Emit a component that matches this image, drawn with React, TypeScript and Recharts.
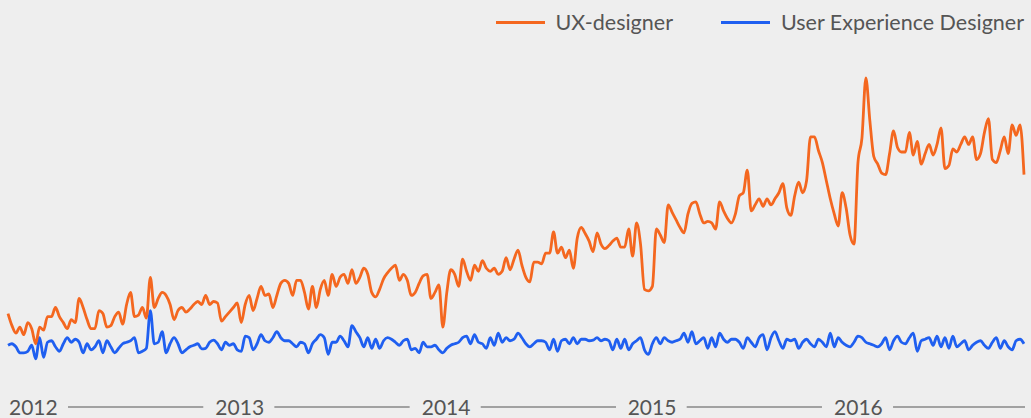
import { LineChart, Line, XAxis, YAxis } from "recharts";

// weekly interest, Jan 2012 .. Dec 2016
const ux2012 = [22, 18, 15.5, 17.5, 15, 19, 17, 12, 17.5, 16.5, 21, 21, 24, 21, 19, 17, 20, 19, 27, 24, 20, 17, 17, 23, 22, 17.5, 18, 21, 22.5, 18.5, 25, 29, 21, 21.5, 24, 20.5, 34, 24, 27, 29, 28, 25, 20, 23, 24, 22.5, 23.5, 25, 26, 25, 28, 25];
const ux2013 = [26, 25.5, 19.5, 21, 22.5, 24, 25.5, 19, 25, 28, 23, 27, 31, 28, 28.5, 24, 28, 32, 33, 32, 28, 33, 33, 29, 23.5, 31, 24, 30, 33, 28, 35, 31, 34, 35, 32, 36.5, 32, 34, 37, 35, 29, 27.5, 30, 33.5, 35.5, 37, 38, 33, 35, 33, 28, 29];
const ux2014 = [32, 34.5, 35, 27, 29, 31.5, 17.5, 29, 36.5, 35, 31, 40, 36, 33, 38, 36, 39.5, 37, 36, 37, 35, 36, 40.5, 36.5, 40, 43, 38, 34, 32.5, 39, 39, 38.5, 42, 42, 49, 42, 44, 40.5, 43, 37, 47, 50.5, 48.5, 46, 42.5, 48.7, 45, 43.5, 44.5, 46, 47, 44];
const ux2015 = [44, 50, 41, 52, 45, 30, 29.5, 31, 50, 48, 45.5, 58, 55.5, 53, 50.5, 48.7, 55, 58.5, 59, 55, 52, 52.5, 52, 50, 59, 56, 53.5, 52, 55, 61, 62, 69.5, 56, 58, 60, 57.5, 60, 58, 60, 62, 65, 57, 54.5, 61, 65.5, 62, 66, 80.5, 80.5, 76, 72, 66];
const ux2016 = [60, 55, 51, 62, 57, 48, 45, 72, 80, 100, 86, 74, 71.5, 68.5, 68, 75, 82.5, 77, 75.5, 75.5, 82, 74.5, 79, 71.5, 75, 78, 74.5, 78, 83.5, 70, 71, 76.5, 75.5, 78, 80.5, 78, 80.5, 73, 75, 82, 86.5, 73, 72, 76, 80.5, 75, 84.5, 81, 84.5, 68];

const ued2012 = [11.5, 12, 11, 9, 9, 9.5, 11.5, 7, 14, 7.5, 12.5, 13, 11, 9.5, 12, 14, 12.5, 13.5, 12.5, 9, 12, 10, 11, 13, 9, 13, 11, 9, 10.5, 12, 12.5, 13, 14, 9, 9.5, 10.5, 23, 12, 12.5, 16, 9, 12, 14, 12, 9, 10, 11, 11.5, 12, 10.3, 10.5, 12.5];
const ued2013 = [13.2, 12, 10, 12.5, 11.5, 12, 10, 9.5, 14.5, 14, 10, 12, 15, 13, 12.5, 14, 16, 14, 13, 13, 12, 11, 12.5, 12, 9, 12, 13.5, 15, 14, 8.5, 12.5, 12.5, 14.5, 13, 11, 18, 16, 14, 11, 14, 10.5, 13.5, 10.5, 13, 14, 13.5, 12.5, 11.5, 13, 13.5, 10, 10.5];
const ued2014 = [9, 12.5, 11, 11, 11.5, 10, 9, 10.5, 11.5, 12, 12.5, 14, 14.5, 12, 15, 12.5, 12, 10.5, 14, 11.5, 15.5, 12.5, 14, 13, 13.5, 15.5, 14, 12, 11, 12, 13, 13, 12.5, 10, 13.5, 9.5, 13, 13.5, 12, 14, 12, 13.5, 13.5, 13, 13.2, 14, 13, 13.5, 13, 10, 13.5, 10.5];
const ued2015 = [13.5, 10, 12, 13, 14, 10, 8.5, 12, 14, 12, 14, 13, 12.5, 13, 13.5, 15.5, 12.5, 16, 12, 13, 14, 10.5, 14, 11, 15.5, 13.5, 12.5, 13.5, 13.5, 12.5, 10.5, 14, 12.5, 11, 14, 15, 10, 14, 16, 13, 10.5, 13.5, 13, 13.5, 10.5, 12.5, 13.5, 12, 11, 13.5, 12.5, 11];
const ued2016 = [15.5, 11, 14, 12.5, 11.5, 11, 12.5, 14.5, 14, 12.5, 12, 11.5, 11, 12, 14, 10, 13, 14.5, 12.5, 12, 14, 15.5, 9.5, 13, 13.5, 14, 11.5, 14.5, 11, 14, 10.5, 14.5, 11, 12, 13, 10, 11.5, 12.5, 13, 11.5, 10.5, 12.5, 14, 10.5, 13, 11, 10, 13, 13.5, 12];

const YEARS = ["2012", "2013", "2014", "2015", "2016"];
const YEAR_TICKS = [0, 52.2, 104.4, 156.5, 208.7];
const WEEKS_PER_YEAR = 52.18;

const ux = [...ux2012, ...ux2013, ...ux2014, ...ux2015, ...ux2016];
const ued = [...ued2012, ...ued2013, ...ued2014, ...ued2015, ...ued2016];
const data = ux.map((v, i) => ({ week: i, ux: v, ued: ued[i] }));

const W = 1031;
const H = 418;
const MARGIN = { top: 78, right: 7, bottom: 0, left: 8 };
const PLOT_W = W - MARGIN.left - MARGIN.right;
const PX_PER_WEEK = PLOT_W / (data.length - 1);

const ORANGE = "#f4671f";
const BLUE = "#1f5ff0";
const TEXT = "#555555";
const FONT = "Lato, 'Open Sans', sans-serif";

function YearTick(props: any) {
  const { x, index } = props;
  const lineStart = x + 60;
  const lineEnd = Math.min(x + WEEKS_PER_YEAR * PX_PER_WEEK - 11, W - MARGIN.right + 1);
  return (
    <g>
      <text x={x + 1} y={415} fill={TEXT} fontSize={21} fontFamily={FONT} textAnchor="start">
        {YEARS[index]}
      </text>
      <line x1={lineStart} x2={lineEnd} y1={407} y2={407} stroke={TEXT} strokeWidth={1} />
    </g>
  );
}

function Legend() {
  const item = (color: string, label: string, gapLeft: number) => (
    <div style={{ display: "flex", alignItems: "center", marginLeft: gapLeft }}>
      <div style={{ width: 49, height: 3, background: color, marginRight: 11 }} />
      <span style={{ fontSize: 21.5, color: TEXT, fontFamily: FONT, lineHeight: "26px" }}>{label}</span>
    </div>
  );
  return (
    <div style={{ position: "absolute", top: 9, right: 7, display: "flex", alignItems: "center" }}>
      {item(ORANGE, "UX-designer", 0)}
      {item(BLUE, "User Experience Designer", 48)}
    </div>
  );
}

export default function App() {
  return (
    <div style={{ position: "absolute", left: 0, top: 0, width: W, height: H, background: "#eeeeee", overflow: "hidden" }}>
      <LineChart width={W} height={H} data={data} margin={MARGIN}>
        <XAxis
          dataKey="week"
          type="number"
          domain={[0, data.length - 1]}
          ticks={YEAR_TICKS}
          interval={0}
          axisLine={false}
          tickLine={false}
          height={38}
          tick={<YearTick />}
        />
        <YAxis hide domain={[0, 100]} />
        <Line type="monotone" dataKey="ued" stroke={BLUE} strokeWidth={2.8} dot={false} isAnimationActive={false} />
        <Line type="monotone" dataKey="ux" stroke={ORANGE} strokeWidth={2.8} dot={false} isAnimationActive={false} />
      </LineChart>
      <Legend />
    </div>
  );
}
